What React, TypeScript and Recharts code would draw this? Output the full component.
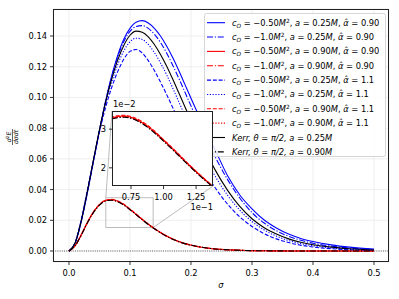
import React from "react";
import { LineChart, Line, XAxis, YAxis, CartesianGrid, ReferenceLine, ReferenceArea } from "recharts";

// sigma grid (shared by all curves)
const SIGMA = [0, 0.01, 0.02, 0.03, 0.04, 0.05, 0.06, 0.07, 0.08, 0.09, 0.1, 0.11, 0.12, 0.13, 0.14, 0.15, 0.16, 0.17, 0.18, 0.19, 0.2, 0.22, 0.24, 0.26, 0.28, 0.3, 0.32, 0.34, 0.36, 0.38, 0.4, 0.43, 0.46, 0.5];

// a = 0.25M group
const BLUE_SOLID = [0, 0.005, 0.019, 0.0375, 0.058, 0.0785, 0.0975, 0.114, 0.1275, 0.138, 0.145, 0.149, 0.15, 0.1485, 0.145, 0.14, 0.1335, 0.126, 0.1175, 0.1085, 0.0995, 0.082, 0.0655, 0.049, 0.0365, 0.0275, 0.0202, 0.015, 0.011, 0.0082, 0.0062, 0.004, 0.0025, 0.0012];
const BLUE_DASHDOT = [0, 0.0051, 0.0192, 0.038, 0.0585, 0.0788, 0.0975, 0.1135, 0.1265, 0.1365, 0.143, 0.1462, 0.1468, 0.145, 0.1412, 0.1358, 0.129, 0.121, 0.1125, 0.1035, 0.0945, 0.077, 0.061, 0.0465, 0.0345, 0.025, 0.0182, 0.0132, 0.0096, 0.007, 0.005, 0.0032, 0.0019, 0.0009];
const BLUE_DASHED = [0, 0.0055, 0.0202, 0.0392, 0.0588, 0.0775, 0.0935, 0.1065, 0.117, 0.125, 0.13, 0.1312, 0.129, 0.124, 0.1175, 0.11, 0.102, 0.0935, 0.085, 0.0765, 0.0685, 0.0535, 0.041, 0.0305, 0.0222, 0.016, 0.0113, 0.0079, 0.0055, 0.0038, 0.0026, 0.0015, 0.0008, 0.0004];
const BLUE_DOTTED = [0, 0.0053, 0.0198, 0.0388, 0.059, 0.0785, 0.096, 0.11, 0.1215, 0.1305, 0.1362, 0.1386, 0.1378, 0.1345, 0.1292, 0.1225, 0.1148, 0.1062, 0.0972, 0.0882, 0.0795, 0.063, 0.0485, 0.0363, 0.0266, 0.0192, 0.0137, 0.0097, 0.0068, 0.0048, 0.0034, 0.002, 0.0011, 0.0005];
const KERR_025 = [0, 0.0052, 0.0195, 0.0385, 0.059, 0.079, 0.097, 0.112, 0.1245, 0.134, 0.1405, 0.1432, 0.1425, 0.1395, 0.1345, 0.128, 0.1205, 0.112, 0.103, 0.094, 0.085, 0.068, 0.0525, 0.0395, 0.029, 0.021, 0.0152, 0.011, 0.0079, 0.0057, 0.0041, 0.0025, 0.0015, 0.0007];

// a = 0.90M group
const RED_SOLID = [0, 0.0034, 0.0104, 0.0184, 0.0253, 0.0302, 0.0329, 0.0334, 0.0324, 0.0302, 0.0272, 0.0239, 0.0206, 0.0175, 0.0146, 0.012, 0.0097, 0.0078, 0.0062, 0.0048, 0.0038, 0.0023, 0.0013, 0.0008, 0.00045, 0.00025, 0.00014, 0.00008, 0.00005, 0.00003, 0.00002, 0.00001, 0, 0];
const RED_DASHDOT = [0, 0.0034, 0.0103, 0.0183, 0.0251, 0.03, 0.0327, 0.0332, 0.0322, 0.03, 0.027, 0.0238, 0.0205, 0.0174, 0.0145, 0.0119, 0.0096, 0.0077, 0.0061, 0.0048, 0.0038, 0.0023, 0.0013, 0.0008, 0.00045, 0.00025, 0.00014, 0.00008, 0.00005, 0.00003, 0.00002, 0.00001, 0, 0];
const RED_DASHED = [0, 0.0035, 0.0105, 0.0185, 0.0254, 0.0304, 0.0331, 0.0336, 0.0326, 0.0304, 0.0273, 0.0241, 0.0207, 0.0176, 0.0147, 0.0121, 0.0098, 0.0078, 0.0062, 0.0049, 0.0039, 0.0023, 0.0013, 0.0008, 0.00045, 0.00025, 0.00014, 0.00008, 0.00005, 0.00003, 0.00002, 0.00001, 0, 0];
const RED_DOTTED = [0, 0.0034, 0.0104, 0.0183, 0.0252, 0.0301, 0.0328, 0.0333, 0.0323, 0.0301, 0.0271, 0.0239, 0.0205, 0.0174, 0.0146, 0.012, 0.0097, 0.0078, 0.0061, 0.0048, 0.0038, 0.0023, 0.0013, 0.0008, 0.00045, 0.00025, 0.00014, 0.00008, 0.00005, 0.00003, 0.00002, 0.00001, 0, 0];
const KERR_090 = [0, 0.0034, 0.0103, 0.0182, 0.025, 0.0299, 0.0326, 0.0331, 0.0321, 0.0299, 0.0269, 0.0237, 0.0204, 0.0173, 0.0145, 0.0119, 0.0096, 0.0077, 0.0061, 0.0048, 0.0038, 0.0023, 0.0013, 0.0008, 0.00045, 0.00025, 0.00014, 0.00008, 0.00005, 0.00003, 0.00002, 0.00001, 0, 0];

// legend labels
const C_O = ["−0.50", "−1.0", "−0.50", "−1.0", "−0.50", "−1.0", "−0.50", "−1.0"];
const SPIN = ["0.25", "0.25", "0.90", "0.90", "0.25", "0.25", "0.90", "0.90"];
const ALPHA = ["0.90", "0.90", "0.90", "0.90", "1.1", "1.1", "1.1", "1.1"];
const KERR_SPIN = ["0.25", "0.90"];

const X_TICKS = [0, 0.1, 0.2, 0.3, 0.4, 0.5];
const Y_TICKS = [0, 0.02, 0.04, 0.06, 0.08, 0.1, 0.12, 0.14];
const INSET_X_TICKS = [0.075, 0.1, 0.125];
const INSET_Y_TICKS = [0.02, 0.03];

const X_DOMAIN: [number, number] = [-0.0262, 0.5246];
const Y_DOMAIN: [number, number] = [-0.00716, 0.1576];
const INSET_X: [number, number] = [0.0604, 0.138];
const INSET_Y: [number, number] = [0.0153, 0.0347];

const rows = SIGMA.map((s, i) => ({
    s,
    bs: BLUE_SOLID[i],
    bdd: BLUE_DASHDOT[i],
    rs: RED_SOLID[i],
    rdd: RED_DASHDOT[i],
    bd: BLUE_DASHED[i],
    bdot: BLUE_DOTTED[i],
    rd: RED_DASHED[i],
    rdot: RED_DOTTED[i],
    k25: KERR_025[i],
    k90: KERR_090[i],
}));

const DASHED = "4 1.8";
const DASHDOT = "6 1.8 1.2 1.8";
const DOTTED = "1.2 1.6";

// plot order = legend order
const SERIES = [
    { key: "bs", color: "#0000ff", dash: undefined as string | undefined },
    { key: "bdd", color: "#0000ff", dash: DASHDOT },
    { key: "rs", color: "#ff0000", dash: undefined },
    { key: "rdd", color: "#ff0000", dash: DASHDOT },
    { key: "bd", color: "#0000ff", dash: DASHED },
    { key: "bdot", color: "#0000ff", dash: DOTTED },
    { key: "rd", color: "#ff0000", dash: DASHED },
    { key: "rdot", color: "#ff0000", dash: DOTTED },
    { key: "k25", color: "#000000", dash: undefined },
    { key: "k90", color: "#000000", dash: DASHDOT },
];

const FONT = "DejaVu Sans, sans-serif";
const FS = 8.3;

// main plot box (page px)
const PL = 53, PT = 9, PW = 336, PH = 253;
// inset plot box (page px)
const IL = 112, IT = 111, IW = 101, IH = 75;

const invX = (px: number) => X_DOMAIN[0] + ((px - PL) / PW) * (X_DOMAIN[1] - X_DOMAIN[0]);
const invY = (py: number) => Y_DOMAIN[1] - ((py - PT) / PH) * (Y_DOMAIN[1] - Y_DOMAIN[0]);

const tickStyle = { fontSize: FS, fill: "#000", fontFamily: FONT };

const MathRow: React.FC<{ i: number; y: number }> = ({ i, y }) => (
    <text x={232} y={y + 3} fontSize={FS} fontFamily={FONT} fill="#000">
        <tspan fontStyle="italic">c</tspan>
        <tspan fontStyle="italic" fontSize={5.8} dy={1.8}>O</tspan>
        <tspan dy={-1.8}>{" = " + C_O[i]}</tspan>
        <tspan fontStyle="italic">M</tspan>
        <tspan fontSize={5.8} dy={-3}>2</tspan>
        <tspan dy={3}>{", "}</tspan>
        <tspan fontStyle="italic">a</tspan>
        <tspan>{" = " + SPIN[i]}</tspan>
        <tspan fontStyle="italic">M</tspan>
        <tspan>{", "}</tspan>
        <tspan fontStyle="italic">{"α\u0302"}</tspan>
        <tspan>{" = " + ALPHA[i]}</tspan>
    </text>
);

const KerrRow: React.FC<{ i: number; y: number }> = ({ i, y }) => (
    <text x={232} y={y + 3} fontSize={FS} fontFamily={FONT} fill="#000" fontStyle="italic">
        <tspan>Kerr, θ = π/2, a = </tspan>
        <tspan fontStyle="normal">{KERR_SPIN[i]}</tspan>
        <tspan>M</tspan>
    </text>
);

const LegendBox: React.FC = () => (
    <g>
        <rect x={204.5} y={13.5} width={181} height={143} rx={2} fill="#fff" fillOpacity={0.85} stroke="#cccccc" strokeWidth={0.8} />
        {SERIES.map((s, i) => {
            const y = 22.7 + i * 14.35;
            return (
                <g key={s.key}>
                    <line x1={207} x2={225} y1={y} y2={y} stroke={s.color} strokeWidth={1.1} strokeDasharray={s.dash} />
                    {i < 8 ? <MathRow i={i} y={y} /> : <KerrRow i={i - 8} y={y} />}
                </g>
            );
        })}
    </g>
);

export default function App() {
    return (
        <div style={{ position: "absolute", left: 0, top: 0, width: 399, height: 299, background: "#fff", fontFamily: FONT }}>
            <div style={{ position: "absolute", left: 0, top: 0 }}>
                <LineChart width={399} height={299} data={rows} margin={{ top: PT, right: 399 - PL - PW, bottom: 0, left: 0 }}>
                    <CartesianGrid stroke="#ebebeb" strokeWidth={0.8} />
                    <XAxis
                        dataKey="s"
                        type="number"
                        domain={X_DOMAIN}
                        allowDataOverflow
                        ticks={X_TICKS}
                        tickFormatter={(v: number) => v.toFixed(1)}
                        height={299 - PT - PH}
                        tick={tickStyle}
                        tickLine={{ stroke: "#000", strokeWidth: 0.8 }}
                        tickSize={3}
                        tickMargin={5}
                        axisLine={false}
                        interval={0}
                    />
                    <YAxis
                        type="number"
                        domain={Y_DOMAIN}
                        allowDataOverflow
                        ticks={Y_TICKS}
                        tickFormatter={(v: number) => v.toFixed(2)}
                        width={PL}
                        tick={tickStyle}
                        tickLine={{ stroke: "#000", strokeWidth: 0.8 }}
                        tickSize={3}
                        tickMargin={3}
                        axisLine={false}
                        interval={0}
                    />
                    <ReferenceLine y={0} stroke="#555" strokeWidth={0.9} strokeDasharray="1 1.2" />
                    <ReferenceArea x1={INSET_X[0]} x2={INSET_X[1]} y1={INSET_Y[0]} y2={INSET_Y[1]} fill="none" stroke="#b4b4b4" strokeWidth={0.9} />
                    <ReferenceLine segment={[{ x: INSET_X[0], y: INSET_Y[1] }, { x: invX(IL), y: invY(IT) }]} stroke="#b4b4b4" strokeWidth={0.9} />
                    <ReferenceLine segment={[{ x: INSET_X[1], y: INSET_Y[0] }, { x: invX(IL + IW), y: invY(IT + IH) }]} stroke="#b4b4b4" strokeWidth={0.9} />
                    {SERIES.map((s) => (
                        <Line key={s.key} dataKey={s.key} type="monotone" stroke={s.color} strokeWidth={1.1} strokeDasharray={s.dash} dot={false} activeDot={false} isAnimationActive={false} />
                    ))}
                </LineChart>
            </div>

            {/* frame, axis labels, legend */}
            <svg width={399} height={299} style={{ position: "absolute", left: 0, top: 0, pointerEvents: "none" }}>
                <rect x={PL + 0.5} y={PT + 0.5} width={PW - 1} height={PH - 1} fill="none" stroke="#222" strokeWidth={1} />
                <text x={221} y={287.5} textAnchor="middle" fontSize={FS} fontStyle="italic" fontFamily={FONT}>σ</text>
                <g transform="translate(12.5,137) rotate(-90)">
                    <text x={0} y={-1.6} textAnchor="middle" fontSize={6.2} fontFamily={FONT}>
                        <tspan fontStyle="italic">d</tspan>
                        <tspan fontSize={4.4} dy={-2.2}>2</tspan>
                        <tspan fontStyle="italic" dy={2.2}>E</tspan>
                    </text>
                    <line x1={-8} x2={8} y1={0} y2={0} stroke="#000" strokeWidth={0.6} />
                    <text x={0} y={5.6} textAnchor="middle" fontSize={6.2} fontStyle="italic" fontFamily={FONT}>dσdt</text>
                </g>
                <LegendBox />
            </svg>

            {/* inset */}
            <div style={{ position: "absolute", left: IL, top: IT, width: IW, height: IH, background: "#fff" }} />
            <div style={{ position: "absolute", left: IL - 20, top: IT - 11 }}>
                <LineChart width={IW + 25} height={IH + 31} data={rows} margin={{ top: 11, right: 5, bottom: 0, left: 0 }}>
                    <XAxis
                        dataKey="s"
                        type="number"
                        domain={INSET_X}
                        allowDataOverflow
                        ticks={INSET_X_TICKS}
                        tickFormatter={(v: number) => (v * 10).toFixed(2)}
                        height={20}
                        tick={tickStyle}
                        tickLine={{ stroke: "#000", strokeWidth: 0.8 }}
                        tickSize={3}
                        tickMargin={5}
                        axisLine={false}
                        interval={0}
                    />
                    <YAxis
                        type="number"
                        domain={INSET_Y}
                        allowDataOverflow
                        ticks={INSET_Y_TICKS}
                        tickFormatter={(v: number) => String(Math.round(v * 100))}
                        width={20}
                        tick={tickStyle}
                        tickLine={{ stroke: "#000", strokeWidth: 0.8 }}
                        tickSize={3}
                        tickMargin={3}
                        axisLine={false}
                        interval={0}
                    />
                    {SERIES.map((s) => (
                        <Line key={s.key} dataKey={s.key} type="monotone" stroke={s.color} strokeWidth={1.1} strokeDasharray={s.dash} dot={false} activeDot={false} isAnimationActive={false} />
                    ))}
                </LineChart>
            </div>
            <svg width={399} height={299} style={{ position: "absolute", left: 0, top: 0, pointerEvents: "none" }}>
                <rect x={IL + 0.5} y={IT + 0.5} width={IW - 1} height={IH - 1} fill="none" stroke="#222" strokeWidth={1} />
                <text x={IL + 1} y={IT - 4} fontSize={FS} fontFamily={FONT}>1e−2</text>
                <text x={IL + IW} y={IT + IH + 24} textAnchor="end" fontSize={FS} fontFamily={FONT}>1e−1</text>
            </svg>
        </div>
    );
}
